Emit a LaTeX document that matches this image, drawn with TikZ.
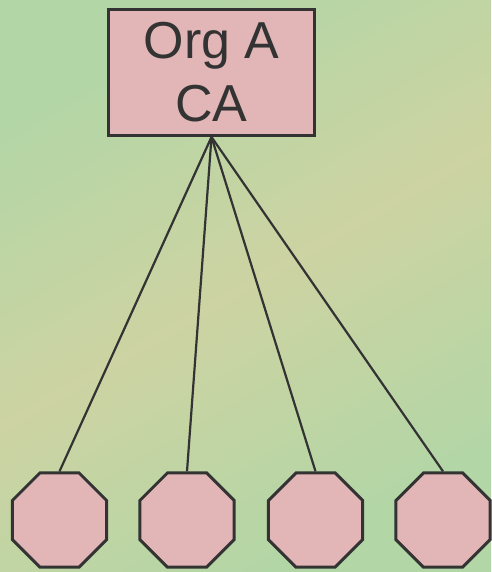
\documentclass[tikz,border=0pt]{standalone}
\usepackage{fontspec}
\setmainfont{Liberation Sans}
\usetikzlibrary{shapes.geometric}
\definecolor{bgGreen}{HTML}{B2D6A6}
\definecolor{bgSand}{HTML}{CDD3A2}
\definecolor{caPink}{HTML}{E2B6B6}
\definecolor{edgeGray}{HTML}{333333}

\begin{document}
\begin{tikzpicture}[x=1pt, y=-1pt,
  ca/.style = {draw=edgeGray, line width=3pt, fill=caPink, text=edgeGray,
    minimum width=206pt, minimum height=126pt, align=center,
    font=\fontsize{52}{63}\selectfont, inner sep=0pt},
  leaf/.style = {draw=edgeGray, line width=3pt, fill=caPink,
    regular polygon, regular polygon sides=8, minimum size=102pt, inner sep=0pt},
  link/.style = {draw=edgeGray, line width=2.2pt}]
\shade[top color=bgGreen, bottom color=bgGreen, middle color=bgSand, shading angle=30]
  (0,0) rectangle (491,572);
\useasboundingbox (0,0) rectangle (491,572);
\node[ca] (orgA) at (211.5,72.5) {Org A\\CA};
\node[leaf] (leafA) at (59.5,520) {};
\node[leaf] (leafB) at (187,520) {};
\node[leaf] (leafC) at (315.5,520) {};
\node[leaf] (leafD) at (443,520) {};
\foreach \n in {leafA,leafB,leafC,leafD}
  \draw[link] (orgA.south) -- (\n.north);
\end{tikzpicture}
\end{document}
